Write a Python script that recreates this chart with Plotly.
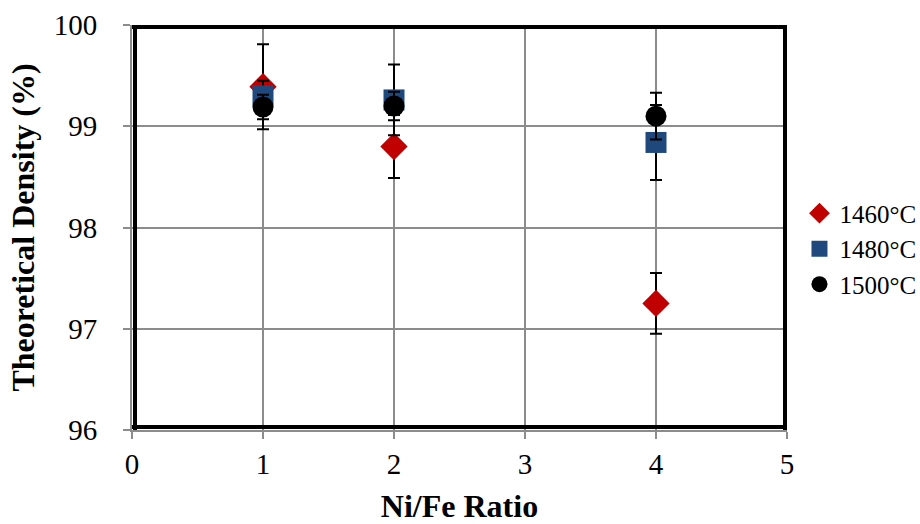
import plotly.graph_objects as go

ratio = [1, 2, 4]
series_names = ["1460°C", "1480°C", "1500°C"]
density_1460 = [99.39, 98.80, 97.25]
err_1460 = [0.42, 0.31, 0.30]
density_1480 = [99.30, 99.26, 98.84]
err_1480 = [0.15, 0.35, 0.37]
density_1500 = [99.19, 99.20, 99.10]
err_1500 = [0.12, 0.14, 0.23]
x_ticks = [0, 1, 2, 3, 4, 5]
y_ticks = [96, 97, 98, 99, 100]

FONT = "Liberation Serif"

fig = go.Figure()
styles = [
    (density_1460, err_1460, "diamond", "#C00000", 21),
    (density_1480, err_1480, "square", "#1F497D", 21),
    (density_1500, err_1500, "circle", "#000000", 21),
]
for name, (ys, es, sym, col, sz) in zip(series_names, styles):
    fig.add_trace(go.Scatter(
        x=ratio, y=ys, name=name, mode="markers",
        marker=dict(symbol=sym, color=col, size=sz, line=dict(width=0)),
        error_y=dict(type="data", array=es, visible=True, color="black",
                     thickness=2, width=6),
    ))

# thick black frame just inside the plot area
frame = dict(type="line", line=dict(color="black", width=4), layer="above")
fig.add_shape(**frame, xref="x", yref="paper", xsizemode="pixel", xanchor=0,
              x0=3, x1=3, y0=0, y1=1)
fig.add_shape(**frame, xref="x", yref="paper", xsizemode="pixel", xanchor=5,
              x0=-2, x1=-2, y0=0, y1=1)
fig.add_shape(**frame, xref="paper", yref="y", ysizemode="pixel", yanchor=100,
              y0=-2, y1=-2, x0=0, x1=1)
fig.add_shape(**frame, xref="paper", yref="y", ysizemode="pixel", yanchor=96,
              y0=3, y1=3, x0=0, x1=1)

fig.update_layout(
    width=920, height=524,
    margin=dict(l=132, r=133, t=25, b=94, autoexpand=False),
    paper_bgcolor="white", plot_bgcolor="white",
    font=dict(family=FONT, color="black", size=29),
    showlegend=True,
    legend=dict(xref="container", yref="container", x=0.869, y=0.525,
                xanchor="left", yanchor="middle",
                font=dict(size=25, family=FONT), itemsizing="trace",
                tracegroupgap=16, bgcolor="rgba(0,0,0,0)"),
    xaxis=dict(range=[0, 5], tickvals=x_ticks, ticktext=[str(v) for v in x_ticks],
               showgrid=True, gridcolor="#8c8c8c", gridwidth=2,
               showline=True, linecolor="#8c8c8c", linewidth=2,
               ticks="outside", ticklen=7, tickcolor="#8c8c8c", tickwidth=2,
               zeroline=False,
               title=dict(text="<b>Ni/Fe Ratio</b>", font=dict(size=32, family=FONT), standoff=18),
               tickfont=dict(size=29, family=FONT)),
    yaxis=dict(range=[96, 100], tickvals=y_ticks, ticktext=[str(v) for v in y_ticks],
               showgrid=True, gridcolor="#8c8c8c", gridwidth=2,
               showline=True, linecolor="#8c8c8c", linewidth=2,
               ticks="outside", ticklen=7, tickcolor="#8c8c8c", tickwidth=2,
               ticklabelstandoff=20,
               zeroline=False,
               title=dict(text="<b>Theoretical Density (%)</b>", font=dict(size=32, family=FONT), standoff=10),
               tickfont=dict(size=29, family=FONT)),
)

fig.write_html("out.html")
